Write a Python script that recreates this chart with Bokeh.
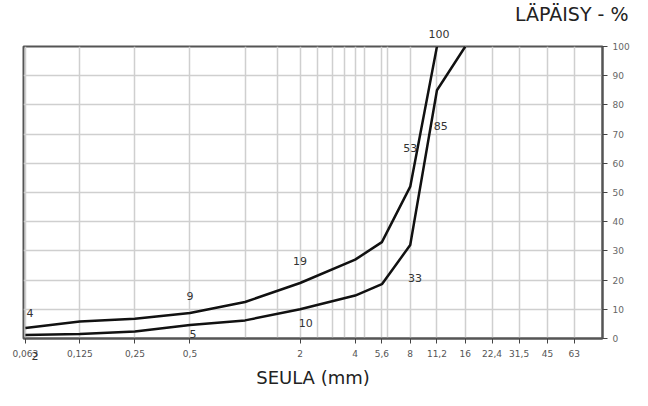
from bokeh.plotting import figure
from bokeh.models import FixedTicker, Label, LogAxis, Title
from bokeh.embed import file_html
from bokeh.resources import INLINE

# Sieve sizes (mm) and passing percentages
sieves_upper = [0.063, 0.125, 0.25, 0.5, 1, 2, 4, 5.6, 8, 11.2]
pass_upper = [3.6, 5.8, 6.8, 8.7, 12.5, 19, 27, 33, 52, 100]
sieves_lower = [0.063, 0.125, 0.25, 0.5, 1, 2, 4, 5.6, 8, 11.2, 16]
pass_lower = [1.2, 1.5, 2.4, 4.6, 6.2, 10, 14.7, 18.6, 32, 85, 100]

# Value labels inside the plot area
lab_upper_text = ["4", "9", "19", "53"]
lab_upper_x = [0.0667, 0.5, 2.0, 8.0]
lab_upper_y = [8.8, 14.4, 26.5, 65.4]
lab_lower_text = ["5", "10", "33", "85"]
lab_lower_x = [0.519, 2.15, 8.5, 11.76]
lab_lower_y = [1.6, 5.2, 20.6, 72.9]
# value labels that sit outside the plot area
top_label = "100"
bottom_label = "2"
bottom_label_x = 0.0711

# Axis ticks
tick_vals = [0.063, 0.125, 0.25, 0.5, 2, 4, 5.6, 8, 11.2, 16, 22.4, 31.5, 45, 63]
tick_labels = ["0,063", "0,125", "0,25", "0,5", "2", "4", "5,6", "8", "11,2",
               "16", "22,4", "31,5", "45", "63"]
grid_vals = [0.063, 0.125, 0.25, 0.5, 1, 1.5, 2, 2.5, 3, 3.5, 4, 4.5, 5.6, 6, 8,
             11.2, 16, 22.4, 31.5, 45, 63]
y_ticks = [0, 10, 20, 30, 40, 50, 60, 70, 80, 90, 100]

FONT = "DejaVu Sans"

p = figure(width=632, height=390, x_axis_type="log", x_range=(0.0615, 90),
           y_range=(0, 100), y_axis_location="right", title=None,
           output_backend="svg", toolbar_location=None,
           min_border_left=23, min_border_right=27, min_border_top=46,
           min_border_bottom=48)
p.background_fill_color = "white"
p.border_fill_color = "white"
p.outline_line_color = "#555555"
p.outline_line_width = 2

# grids
p.xgrid.ticker = FixedTicker(ticks=grid_vals)
p.ygrid.ticker = FixedTicker(ticks=y_ticks)
for g in (p.xgrid, p.ygrid):
    g.grid_line_color = "#cfcfcf"
    g.grid_line_width = 1.5

# x axis
xa = p.xaxis[0]
xa.ticker = FixedTicker(ticks=tick_vals)
xa.major_label_overrides = {v: s for v, s in zip(tick_vals, tick_labels)}
xa.minor_tick_line_color = None
xa.major_tick_in = 0
xa.major_tick_out = 5
xa.major_tick_line_color = "#444444"
xa.axis_line_color = "#555555"
xa.axis_line_width = 2
xa.major_label_text_font = FONT
xa.major_label_text_font_size = "9px"
xa.major_label_text_color = "#555555"
xa.major_label_standoff = 6

# second bottom axis: carries the "2" value label and the axis title
xa2 = LogAxis(ticker=FixedTicker(ticks=[bottom_label_x]),
              major_label_overrides={bottom_label_x: bottom_label})
xa2.axis_line_color = None
xa2.major_tick_line_color = None
xa2.minor_tick_line_color = None
xa2.major_label_text_font = FONT
xa2.major_label_text_font_size = "11px"
xa2.major_label_text_color = "#333333"
xa2.major_label_standoff = -14
xa2.axis_label = "SEULA (mm)"
xa2.axis_label_text_font = FONT
xa2.axis_label_text_font_size = "18px"
xa2.axis_label_text_font_style = "normal"
xa2.axis_label_text_color = "#222222"
xa2.axis_label_standoff = 4
p.add_layout(xa2, "below")

# y axis (right)
ya = p.yaxis[0]
ya.ticker = FixedTicker(ticks=y_ticks)
ya.minor_tick_line_color = None
ya.major_tick_in = 0
ya.major_tick_out = 5
ya.major_tick_line_color = "#444444"
ya.axis_line_color = "#555555"
ya.axis_line_width = 2
ya.major_label_text_font = FONT
ya.major_label_text_font_size = "9px"
ya.major_label_text_color = "#666666"
ya.major_label_standoff = 5

# curves
p.line(sieves_upper, pass_upper, line_color="#111111", line_width=2.5)
p.line(sieves_lower, pass_lower, line_color="#111111", line_width=2.5)

# value labels inside the frame
for texts, xs, ys in ((lab_upper_text, lab_upper_x, lab_upper_y),
                      (lab_lower_text, lab_lower_x, lab_lower_y)):
    for t, x, y in zip(texts, xs, ys):
        p.add_layout(Label(x=x, y=y, text=t, text_align="center",
                           text_baseline="middle", text_font=FONT,
                           text_font_size="11px", text_color="#333333"))

# titles above the frame: "100" value label, then the y title
p.add_layout(Title(text=top_label, align="left", offset=405, standoff=18,
                   text_font=FONT, text_font_size="11px",
                   text_font_style="normal", text_color="#333333"), "above")
p.add_layout(Title(text="LÄPÄISY - %", align="right", offset=-26, standoff=-12,
                   text_font=FONT, text_font_size="19px",
                   text_font_style="normal", text_color="#222222"), "above")

open("out.html", "w").write(file_html(p, INLINE))
